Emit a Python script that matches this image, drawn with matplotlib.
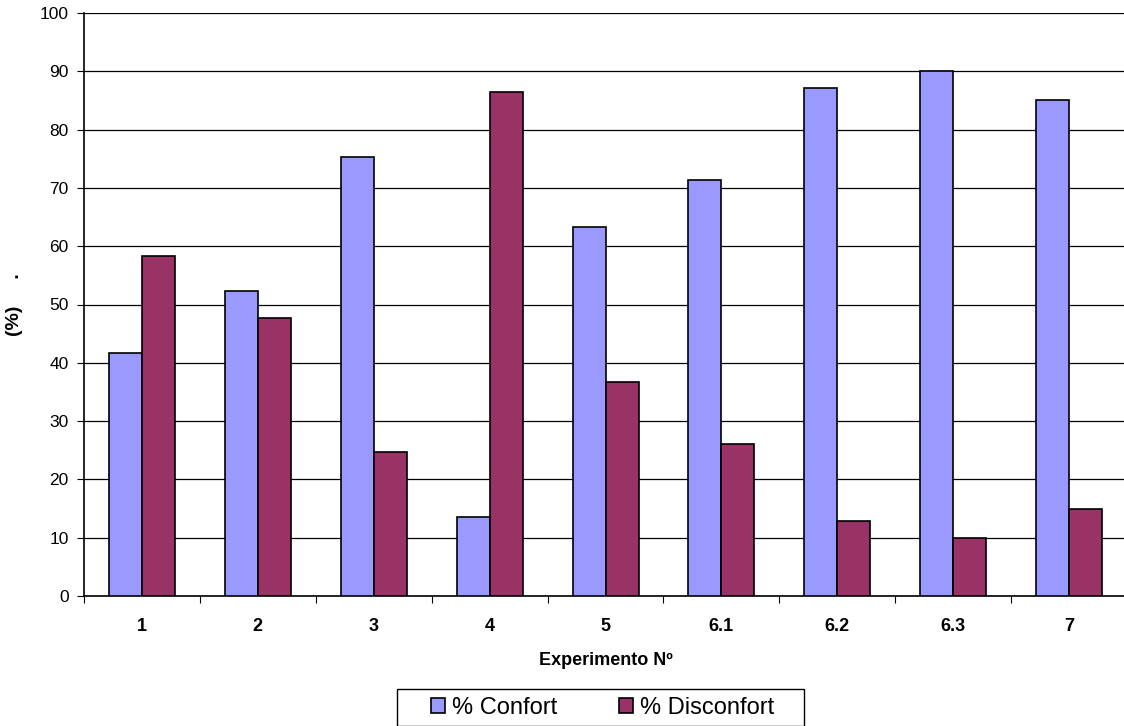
import matplotlib.pyplot as plt
import numpy as np
from matplotlib.patches import Rectangle

plt.rcParams["font.family"] = ["Liberation Sans", "DejaVu Sans"]

experiments = ["1", "2", "3", "4", "5", "6.1", "6.2", "6.3", "7"]
confort = [41.6, 52.4, 75.3, 13.6, 63.3, 71.4, 87.1, 90.0, 85.0]
disconfort = [58.4, 47.6, 24.7, 86.4, 36.7, 26.0, 12.9, 10.0, 15.0]

W, H = 1124, 726
fig = plt.figure(figsize=(W / 100, H / 100), dpi=100)
ax = fig.add_axes([84 / W, 1 - 596 / H, 0.928, 583 / H])

x = np.arange(len(experiments))
width = 0.285
ax.bar(x - width / 2, confort, width, color="#9999FF", edgecolor="black",
       linewidth=1.2, label="% Confort", zorder=3)
ax.bar(x + width / 2, disconfort, width, color="#993366", edgecolor="black",
       linewidth=1.2, label="% Disconfort", zorder=3)

ax.set_xlim(-0.5, len(experiments) - 0.5)
ax.set_ylim(0, 100)
ax.set_yticks(np.arange(0, 101, 10))
ax.set_xticks(np.arange(-0.5, len(experiments), 1), minor=False)
ax.set_xticklabels([])
ax.set_xticks(x, minor=True)
ax.set_xticklabels(experiments, minor=True, fontweight="bold", fontsize=13)
ax.tick_params(axis="x", which="minor", length=0, pad=16)
ax.tick_params(axis="x", which="major", length=5, direction="out")
ax.tick_params(axis="y", length=5, labelsize=12.5, pad=6)

ax.grid(axis="y", color="black", linewidth=0.9, zorder=0)
for s in ["top", "right"]:
    ax.spines[s].set_visible(False)
ax.spines["left"].set_linewidth(1.2)
ax.spines["bottom"].set_linewidth(1.2)

ax.set_xlabel("Experimento Nº", fontweight="bold", fontsize=13, labelpad=12)
ax.set_ylabel("(%)     .", fontweight="bold", fontsize=14)
ax.yaxis.set_label_coords((23 - 84) / 1040, 0.5)

# legend box drawn separately so its padding can match the reference
fig.patches.append(Rectangle((397 / W, 1 - 726 / H), 407 / W, 37 / H,
                             transform=fig.transFigure, facecolor="white",
                             edgecolor="black", linewidth=1.0))
leg = fig.legend(loc="center", bbox_to_anchor=(0.536, 1 - 708 / H), ncol=2,
                 fontsize=17, frameon=False,
                 handlelength=0.6, handleheight=0.6, handletextpad=0.3,
                 columnspacing=2.6, borderpad=0, borderaxespad=0)

fig.savefig("out.png", dpi=100)
